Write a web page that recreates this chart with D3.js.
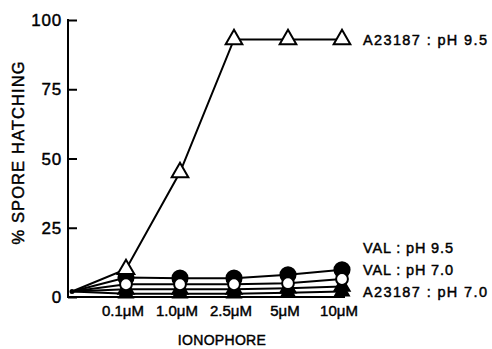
<!DOCTYPE html>
<html><head><meta charset="utf-8">
<script src="https://cdn.jsdelivr.net/npm/d3@7"></script>
<style>body{margin:0;background:#fff}svg{display:block}text{font-family:"Liberation Sans",Arial,sans-serif;fill:#000;stroke:#000;stroke-width:0.45px}</style>
</head><body><svg id="c" width="492" height="349"></svg>
<script>
const categories = ["0", "0.1µM", "1.0µM", "2.5µM", "5µM", "10µM"];
const tickLabels = ["", "0.1\u03bcM", "1.0\u03bcM", "2.5\u03bcM", "5\u03bcM", "10\u03bcM"];
const yTicks = [0, 25, 50, 75, 100];
const a23187_95 = [2, 10, 45, 93, 93, 93];
const val_95 = [2, 7, 6.8, 6.8, 8, 9.8];
const val_70 = [2, 4.6, 4.6, 4.6, 5, 6.5];
const a23187_70 = [2, 2.8, 2.8, 2.8, 3.2, 3.8];
const control = [2, 1.2, 1.2, 1.2, 1.5, 2];
const seriesNames = ["A23187 : pH 9.5", "VAL : pH 9.5", "VAL : pH 7.0", "A23187 : pH 7.0"];

const svg = d3.select("#c");
const x = d3.scalePoint().domain(categories).range([72, 342]);
const y = d3.scaleLinear().domain([0, 100]).range([297, 20]);

// axes
const yAxis = d3.axisRight(y).tickValues(yTicks).tickSize(9).tickFormat("");
const gy = svg.append("g").attr("transform", "translate(68,0)").call(yAxis);
gy.select(".domain").remove();
gy.selectAll("line").attr("stroke", "#000").attr("stroke-width", 2);
svg.append("line").attr("x1", 68).attr("x2", 68).attr("y1", y(100) - 1).attr("y2", y(0) + 1).attr("stroke", "#000").attr("stroke-width", 2);
svg.append("line").attr("x1", 67).attr("x2", 345).attr("y1", y(0)).attr("y2", y(0)).attr("stroke", "#000").attr("stroke-width", 2);
svg.selectAll(".ylab").data(yTicks).enter().append("text")
  .attr("x", 62).attr("y", d => y(d)).attr("dy", "0.36em").attr("text-anchor", "end")
  .attr("font-size", 17).attr("letter-spacing", 0.8).text(d => d);
svg.selectAll(".xlab").data(categories.slice(1)).enter().append("text")
  .attr("x", d => x(d) - 3).attr("y", 316).attr("text-anchor", "middle")
  .attr("font-size", 15).text((d, i) => tickLabels[i + 1]);
svg.append("text").attr("x", 222).attr("y", 345).attr("text-anchor", "middle").attr("font-size", 14).attr("letter-spacing", 0.3).text("IONOPHORE");
svg.append("text").attr("transform", "translate(24,153) rotate(-90)").attr("text-anchor", "middle").attr("font-size", 16.5)
  .attr("textLength", 183).attr("lengthAdjust", "spacing").text("% SPORE HATCHING");

const line = d3.line().x((d, i) => x(categories[i])).y(d => y(d));
const all = [control, a23187_70, val_70, val_95, a23187_95];
svg.selectAll(".ln").data(all).enter().append("path")
  .attr("d", d => line(d)).attr("fill", "none").attr("stroke", "#000").attr("stroke-width", 2);

function markers(data, type, size, fill) {
  svg.append("g").selectAll("path").data(data.slice(1)).enter().append("path")
    .attr("transform", (d, i) => `translate(${x(categories[i + 1])},${y(d)})`)
    .attr("d", d3.symbol().type(type).size(size)())
    .attr("fill", fill).attr("stroke", "#000").attr("stroke-width", 2);
}
markers(control, d3.symbolTriangle, 80, "#000");
markers(a23187_70, d3.symbolTriangle, 100, "#000");
markers(val_95, d3.symbolCircle, 180, "#000");
markers(val_70, d3.symbolCircle, 110, "#fff");
markers(a23187_95, d3.symbolTriangle, 120, "#fff");
// origin dot
svg.append("circle").attr("cx", x(categories[0])).attr("cy", y(control[0])).attr("r", 2.5).attr("fill", "#000");

// series labels
const labelY = [y(a23187_95[5]), 248, 270, 292];
const labelW = [124, 90, 90, 124];
svg.selectAll(".sl").data(seriesNames).enter().append("text")
  .attr("x", 363).attr("y", (d, i) => labelY[i]).attr("dy", "0.36em")
  .attr("font-size", 14.5).attr("textLength", (d, i) => labelW[i]).attr("lengthAdjust", "spacing").text(d => d);
</script></body></html>
